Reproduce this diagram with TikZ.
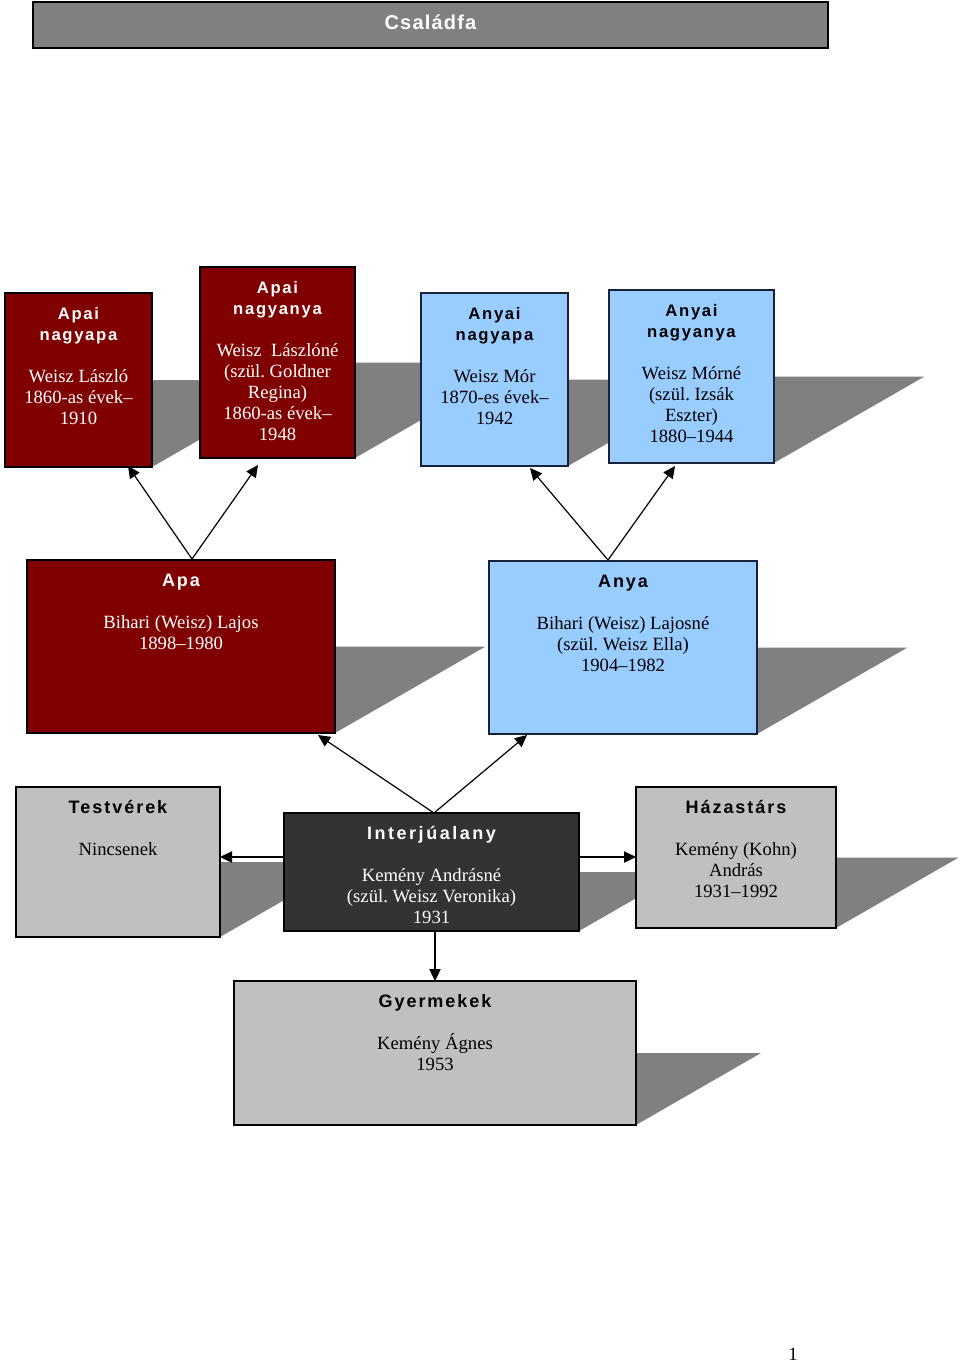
\documentclass[tikz,border=0pt]{standalone}
\usepackage{fontspec}
\setmainfont{Liberation Serif}
\newfontfamily\hfontA{Liberation Sans}[LetterSpace=10]
\newfontfamily\hfontB{Liberation Sans}[LetterSpace=11]
\newfontfamily\hfontC{Liberation Sans}[LetterSpace=14]
\newfontfamily\tfont{Liberation Sans}[LetterSpace=6]
\usetikzlibrary{arrows.meta,calc}
\pgfdeclarelayer{bg}
\pgfsetlayers{bg,main}
\definecolor{dred}{HTML}{800000}
\definecolor{lblue}{HTML}{99CCFF}
\definecolor{lgray}{HTML}{C0C0C0}
\definecolor{dgray}{HTML}{333333}
\definecolor{shd}{HTML}{808080}
\definecolor{bnav}{HTML}{17213A}
\newcommand\hdA[1]{{\hfontA\bfseries\fontsize{12.5}{15.75}\selectfont #1}}
\newcommand\hdB[1]{{\hfontB\bfseries\fontsize{13.5}{15.75}\selectfont #1}}
\newcommand\hdC[1]{{\hfontC\bfseries\fontsize{13.5}{15.75}\selectfont #1}}
\newcommand\fst{\rule{0pt}{13pt}}
\newcommand\shadowof[2]{\fill[shd] (#1.east) -- ++(#2,0) -- (#1.south east) -- cycle;}
\frenchspacing
\begin{document}
\begin{tikzpicture}[x=0.75pt,y=-0.75pt,
  box/.style={draw=black, line width=1.1pt, inner sep=0pt, outer sep=0pt},
  bbox/.style={box, draw=bnav, fill=lblue},
  txt/.style={anchor=north, align=center, inner sep=0pt, font=\fontsize{14}{15.75}\selectfont},
  arr/.style={line width=0.9pt, -{Triangle[length=9pt,width=8.5pt]}}]
\useasboundingbox (0,0) rectangle (960,1364);
% title
\node[box, fill=shd, minimum width=596.25pt, minimum height=34.5pt] (title) at (430.5,25) {};
\node[anchor=base, inner sep=0pt, text=white, font=\tfont\bfseries\fontsize{15}{18}\selectfont] (ttext) at (430.5,29) {Családfa};
% boxes
\node[box, fill=dred, minimum width=110.25pt, minimum height=130.5pt] (b1) at (78.5,380) {};
\node[box, fill=dred, minimum width=116.25pt, minimum height=143.25pt] (b2) at (277.5,362.5) {};
\node[bbox, minimum width=110.25pt, minimum height=129.75pt] (b3) at (494.5,379.5) {};
\node[bbox, minimum width=123.75pt, minimum height=129.75pt] (b4) at (691.5,376.5) {};
\node[box, fill=dred, minimum width=231pt, minimum height=129.75pt] (apa) at (181,646.5) {};
\node[bbox, minimum width=201pt, minimum height=129.75pt] (anya) at (623,647.5) {};
\node[box, fill=lgray, minimum width=153pt, minimum height=112.5pt] (testv) at (118,862) {};
\node[box, fill=dgray, minimum width=221.25pt, minimum height=88.5pt] (interj) at (431.5,872) {};
\node[box, fill=lgray, minimum width=150pt, minimum height=105.75pt] (hazas) at (736,857.5) {};
\node[box, fill=lgray, minimum width=301.5pt, minimum height=108pt] (gyer) at (435,1053) {};
% shadows
\begin{pgfonlayer}{bg}
\shadowof{b1}{151}
\shadowof{b2}{166}
\shadowof{b3}{150.5}
\shadowof{b4}{150.5}
\shadowof{apa}{150.5}
\shadowof{anya}{150.5}
\shadowof{testv}{130.5}
\shadowof{interj}{102.7}
\shadowof{hazas}{122.7}
\shadowof{gyer}{125}
\end{pgfonlayer}
% texts
\node[txt, text=white] (t1) at ($(b1.north)+(0,9.2)$) {\fst\hdA{Apai}\\\hdA{nagyapa}\\[15.75pt]Weisz László\\1860-as évek–\\1910};
\node[txt, text=white] (t2) at ($(b2.north)+(0,9.2)$) {\fst\hdA{Apai}\\\hdA{nagyanya}\\[15.75pt]Weisz\ \ Lászlóné\\(szül. Goldner\\Regina)\\1860-as évek–\\1948};
\node[txt] (t3) at ($(b3.north)+(0,9.2)$) {\fst\hdA{Anyai}\\\hdA{nagyapa}\\[15.75pt]Weisz Mór\\1870-es évek–\\1942};
\node[txt] (t4) at ($(b4.north)+(0,9.2)$) {\fst\hdA{Anyai}\\\hdA{nagyanya}\\[15.75pt]Weisz Mórné\\(szül. Izsák\\Eszter)\\1880–1944};
\node[txt, text=white] (tapa) at ($(apa.north)+(0,9.2)$) {\fst\hdB{Apa}\\[15.75pt]Bihari (Weisz) Lajos\\1898–1980};
\node[txt] (tanya) at ($(anya.north)+(0,9.2)$) {\fst\hdB{Anya}\\[15.75pt]Bihari (Weisz) Lajosné\\(szül. Weisz Ella)\\1904–1982};
\node[txt] (ttestv) at ($(testv.north)+(0,9.2)$) {\fst\hdB{Testvérek}\\[15.75pt]Nincsenek};
\node[txt, text=white] (tinterj) at ($(interj.north)+(0,9.2)$) {\fst\hdC{Interjúalany}\\[15.75pt]Kemény Andrásné\\(szül. Weisz Veronika)\\1931};
\node[txt] (thazas) at ($(hazas.north)+(0,9.2)$) {\fst\hdB{Házastárs}\\[15.75pt]Kemény (Kohn)\\András\\1931–1992};
\node[txt] (tgyer) at ($(gyer.north)+(0,9.2)$) {\fst\hdB{Gyermekek}\\[15.75pt]Kemény Ágnes\\1953};
% page number
\node[anchor=base, inner sep=0pt, font=\fontsize{14}{16}\selectfont] (pnum) at (793,1360) {1};
% connectors
\draw[arr] ($(apa.north)+(11,-1)$) -- ($(b1.south)+(49.5,-1)$);
\draw[arr] ($(apa.north)+(11,-1)$) -- ($(b2.south)+(-19.5,7)$);
\draw[arr] ($(anya.north)+(-15,-1)$) -- ($(b3.south)+(35.5,2)$);
\draw[arr] ($(anya.north)+(-15,-1)$) -- ($(b4.south)+(-16.5,3)$);
\draw[arr] ($(interj.north)+(2.5,0)$) -- ($(apa.south)+(137,2)$);
\draw[arr] ($(interj.north)+(2.5,0)$) -- ($(anya.south)+(-96,1)$);
\draw[arr] ($(interj.west)+(0,-15)$) -- ($(testv.east)+(0,-5)$);
\draw[arr] ($(interj.east)+(0,-15)$) -- ($(hazas.west)+(0,-0.5)$);
\draw[arr] (interj.south -| gyer.north) -- (gyer.north);
\end{tikzpicture}
\end{document}
